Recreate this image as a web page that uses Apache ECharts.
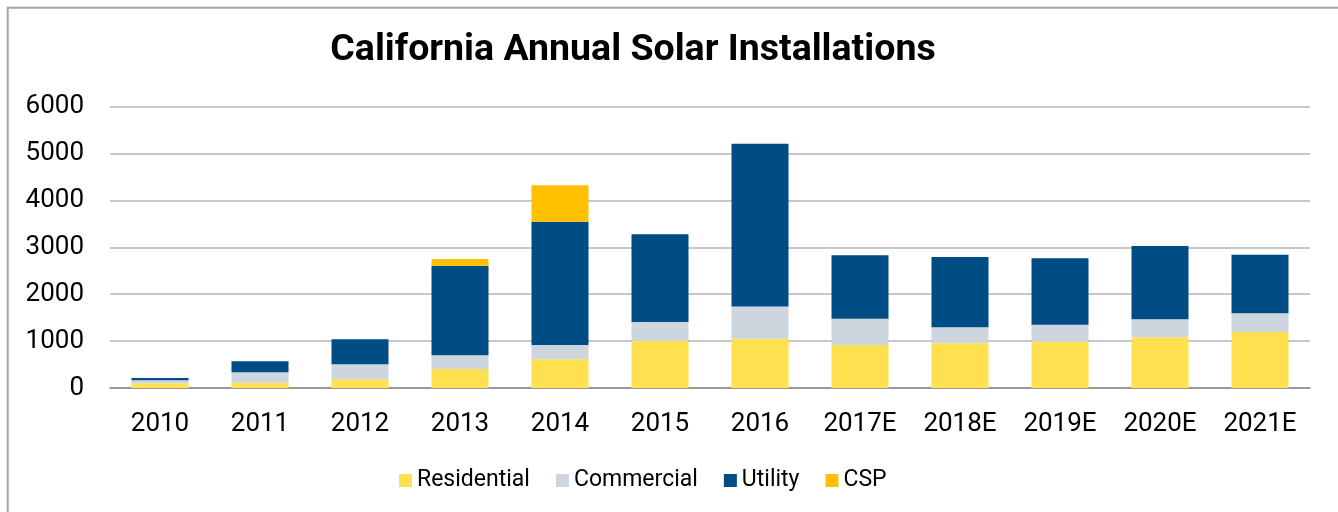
<!DOCTYPE html>
<html><head><meta charset="utf-8">
<script src="https://cdn.jsdelivr.net/npm/echarts@6/dist/echarts.min.js"></script>
<style>html,body{margin:0;padding:0;background:#fff}#c{width:1338px;height:512px}</style>
</head><body><div id="c"></div>
<script>
const categories = ['2010','2011','2012','2013','2014','2015','2016','2017E','2018E','2019E','2020E','2021E'];
const residential = [100,113,185,405,612,1002,1052,917,952,988,1081,1194];
const commercial = [65,222,320,292,305,405,689,561,342,362,384,399];
const utility = [50,234,533,1911,2629,1870,3468,1351,1499,1415,1563,1250];
const csp = [0,0,0,142,776,0,0,0,0,0,0,0];
const yTicks = [0,1000,2000,3000,4000,5000,6000];

const chart = echarts.init(document.getElementById('c'), null, {renderer:'canvas'});
const font = 'Roboto';
function s(name, data, color){
  return {name, type:'bar', stack:'total', data, barWidth:57, itemStyle:{color}, emphasis:{disabled:true}};
}
chart.setOption({
  animation:false,
  textStyle:{fontFamily:font},
  graphic:[{type:'rect', shape:{x:7.7,y:7.7,width:1340,height:520}, style:{fill:null, stroke:'#A6A6A6', lineWidth:2}, silent:true}],
  title:{text:'California Annual Solar Installations', left:628, textAlign:'center', top:27,
    textStyle:{fontFamily:font, fontWeight:'bold', fontSize:37.5, color:'#000'}},
  legend:{left:394, top:464, itemWidth:13, itemHeight:13, itemGap:26,
    icon:'rect', textStyle:{fontFamily:font, fontSize:23, color:'#000'},
    data:['Residential','Commercial','Utility','CSP']},
  grid:{left:110, right:28, top:106.7, bottom:124, containLabel:false},
  xAxis:{type:'category', data:categories,
    axisLine:{lineStyle:{color:'#8C8C8C', width:1.5}}, axisTick:{show:false},
    axisLabel:{fontFamily:font, fontSize:26, color:'#000', margin:23}},
  yAxis:{type:'value', min:0, max:6000, interval:1000,
    axisLine:{show:false}, axisTick:{show:false},
    splitLine:{lineStyle:{color:'#B4B4B4', width:1.5}},
    axisLabel:{fontFamily:font, fontSize:26, color:'#000', margin:26,
      formatter:v=> yTicks.includes(v) ? String(v) : ''}},
  series:[
    s('Residential', residential, '#FFE04F'),
    s('Commercial', commercial, '#CDD5DE'),
    s('Utility', utility, '#004C84'),
    s('CSP', csp, '#FFC000')
  ]
});
</script></body></html>
